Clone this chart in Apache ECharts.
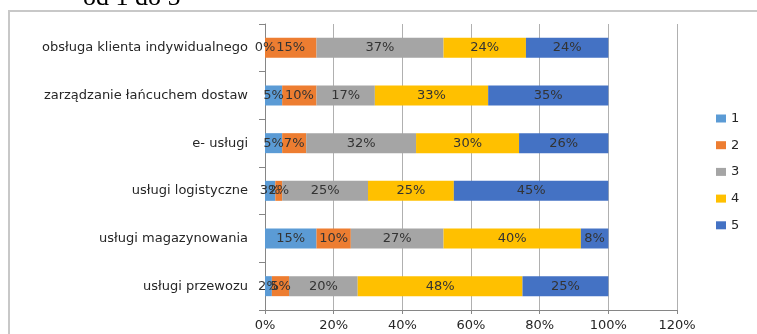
<!DOCTYPE html>
<html><head><meta charset="utf-8">
<script src="https://cdn.jsdelivr.net/npm/echarts@6/dist/echarts.min.js"></script>
<style>html,body{margin:0;padding:0;background:#fff}#c{width:757px;height:334px}</style>
</head><body><div id="c"></div>
<script>
const categories = ['usługi przewozu','usługi magazynowania','usługi logistyczne','e- usługi','zarządzanie łańcuchem dostaw','obsługa klienta indywidualnego'];
const seriesNames = ['1','2','3','4','5'];
const s1 = [2, 15, 3, 5, 5, 0];
const s2 = [5, 10, 2, 7, 10, 15];
const s3 = [20, 27, 25, 32, 17, 37];
const s4 = [48, 40, 25, 30, 33, 24];
const s5 = [25, 8, 45, 26, 35, 24];
const xTicks = [0, 20, 40, 60, 80, 100, 120];
const colors = ['#5B9BD5','#ED7D31','#A5A5A5','#FFC000','#4472C4'];
const allData = [s1, s2, s3, s4, s5];
const font = 'DejaVu Sans';
const chart = echarts.init(document.getElementById('c'));
chart.setOption({
  animation: false,
  color: colors,
  textStyle: {fontFamily: font},
  graphic: [
    {type:'rect', shape:{x:9, y:11, width:800, height:400}, style:{fill:'none', stroke:'#c8c8c8', lineWidth:2}, silent:true},
    {type:'text', x:83, y:-15, style:{text:'od 1 do 5', font:'26px "Liberation Serif"', fill:'#000'}, silent:true}
  ],
  grid: {left: 265, right: 80, top: 24, bottom: 24, containLabel: false},
  legend: {
    orient: 'vertical', left: 711, top: 107,
    itemWidth: 10, itemHeight: 8, itemGap: 13.7,
    icon: 'rect',
    textStyle: {fontSize: 13, color: '#262626', fontFamily: font},
    data: seriesNames
  },
  xAxis: {
    type: 'value', min: xTicks[0], max: xTicks[xTicks.length-1], interval: 20,
    axisLine: {show: true, lineStyle: {color: '#868686'}},
    axisTick: {show: true, length: 4, lineStyle: {color: '#868686'}},
    splitLine: {show: true, lineStyle: {color: '#b0b0b0'}},
    axisLabel: {formatter: v => v + '%', fontSize: 13, color: '#262626', margin: 9, fontFamily: font}
  },
  yAxis: {
    type: 'category', data: categories,
    axisLine: {show: true, lineStyle: {color: '#868686'}},
    axisTick: {show: true, length: 6, lineStyle: {color: '#868686'}},
    axisLabel: {fontSize: 13, color: '#262626', margin: 17, fontFamily: font}
  },
  series: seriesNames.map((n, i) => ({
    name: n, type: 'bar', stack: 'total', barWidth: 20,
    data: allData[i],
    label: {show: true, position: 'inside', formatter: p => p.value + '%', fontSize: 13, color: '#333333', fontFamily: font}
  }))
});
</script></body></html>
